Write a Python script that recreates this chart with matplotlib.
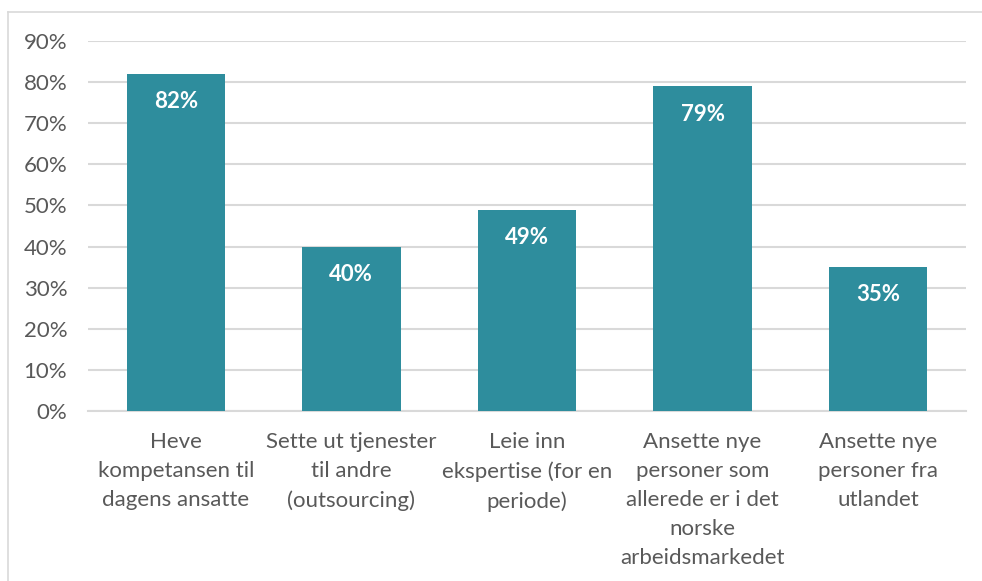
import matplotlib.pyplot as plt
from matplotlib.lines import Line2D
from matplotlib.ticker import PercentFormatter

categories = [
    "Heve\nkompetansen til\ndagens ansatte",
    "Sette ut tjenester\ntil andre\n(outsourcing)",
    "Leie inn\nekspertise (for en\nperiode)",
    "Ansette nye\npersoner som\nallerede er i det\nnorske\narbeidsmarkedet",
    "Ansette nye\npersoner fra\nutlandet",
]
values = [0.82, 0.40, 0.49, 0.79, 0.35]
yticks = [0, 0.1, 0.2, 0.3, 0.4, 0.5, 0.6, 0.7, 0.8, 0.9]

bar_color = "#2E8D9D"
text_color = "#595959"
grid_color = "#D9D9D9"

plt.rcParams['font.family'] = ['Lato', 'DejaVu Sans']

fig = plt.figure(figsize=(9.82, 5.81), dpi=100)
ax = fig.add_axes([0.0896, 0.2926, 0.8941, 0.6368])

x = range(len(categories))
bars = ax.bar(x, values, width=0.56, color=bar_color, zorder=3)

for b, v in zip(bars, values):
    ax.annotate("{:.0%}".format(v), (b.get_x() + b.get_width() / 2, v),
                xytext=(0, -20), textcoords="offset points",
                ha="center", va="center", color="white",
                fontsize=16, fontweight="bold", zorder=4)

ax.set_xlim(-0.5, len(categories) - 0.5)
ax.set_ylim(0, 0.9)
ax.set_yticks(yticks)
ax.yaxis.set_major_formatter(PercentFormatter(1.0, decimals=0))
ax.set_xticks(list(x))
ax.set_xticklabels(categories, linespacing=1.57)

ax.grid(axis="y", color=grid_color, linewidth=1.5, zorder=0)
ax.set_axisbelow(True)
for s in ["top", "right", "left"]:
    ax.spines[s].set_visible(False)
ax.spines["bottom"].set_color(grid_color)
ax.spines["bottom"].set_linewidth(1.5)

ax.tick_params(axis="both", length=0, labelsize=16, labelcolor=text_color)
ax.tick_params(axis="y", pad=15)
ax.tick_params(axis="x", pad=15)
for lab in ax.get_xticklabels():
    lab.set_va("top")

# frame around the chart area (only top and left visible)
fig.add_artist(Line2D([8 / 982, 1], [1 - 12 / 581, 1 - 12 / 581],
                      transform=fig.transFigure, color=grid_color, linewidth=1.2))
fig.add_artist(Line2D([8 / 982, 8 / 982], [0, 1 - 12 / 581],
                      transform=fig.transFigure, color=grid_color, linewidth=1.2))

fig.savefig("out.png", dpi=100)
